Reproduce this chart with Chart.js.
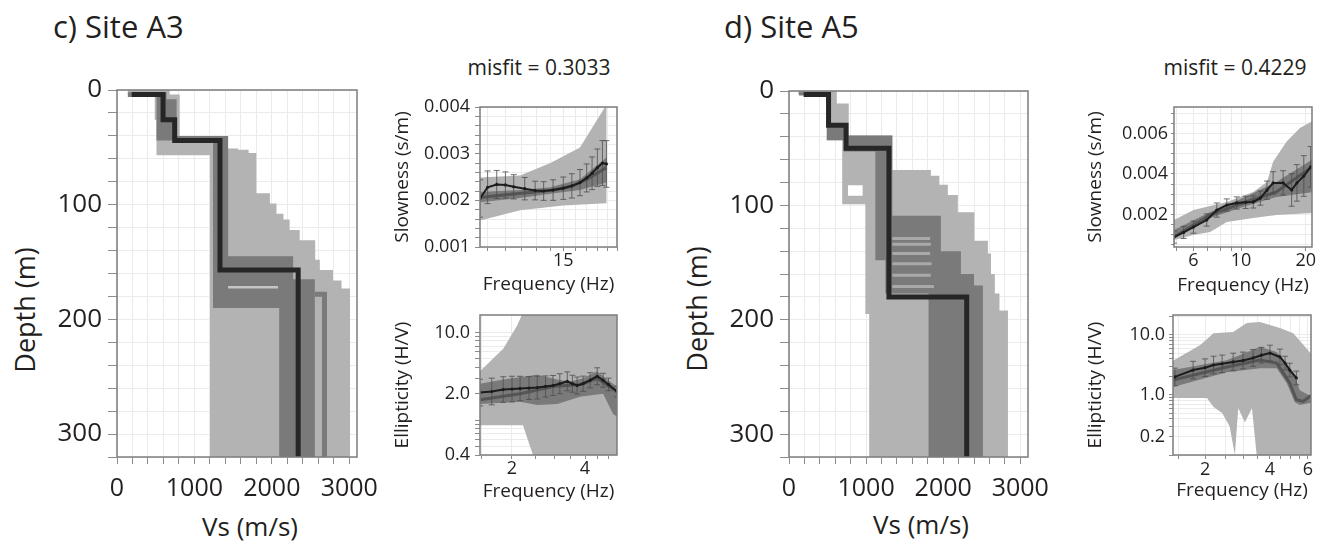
<!DOCTYPE html>
<html>
<head>
<meta charset="utf-8">
<script src="https://cdn.jsdelivr.net/npm/chart.js@4.4.1/dist/chart.umd.min.js"></script>
<style>
  body { margin: 0; width: 1321px; height: 545px; background: #fff; position: relative; overflow: hidden;
         font-family: 'Open Sans', sans-serif; color: #231f20; }
  canvas { position: absolute; }
  .txt { position: absolute; white-space: nowrap; line-height: 1; }
  .ctr { transform: translate(-50%, -50%); }
  .rot { transform: translate(-50%, -50%) rotate(-90deg); }
</style>
</head>
<body>
<div class="txt" style="left:53px;top:11px;font-size:31px">c) Site A3</div>
<div class="txt" style="left:724px;top:11px;font-size:31px">d) Site A5</div>
<div class="txt ctr" style="left:539px;top:67px;font-size:21px">misfit = 0.3033</div>
<div class="txt ctr" style="left:1235px;top:67px;font-size:21px">misfit = 0.4229</div>
<div class="txt rot" style="left:24px;top:310px;font-size:27px">Depth (m)</div>
<div class="txt rot" style="left:696px;top:309px;font-size:27px">Depth (m)</div>
<div class="txt ctr" style="left:250px;top:526px;font-size:26px">Vs (m/s)</div>
<div class="txt ctr" style="left:921px;top:524px;font-size:26px">Vs (m/s)</div>

<canvas id="a3Vs"></canvas>
<canvas id="a3Slow"></canvas>
<canvas id="a3Ell"></canvas>
<canvas id="a5Vs"></canvas>
<canvas id="a5Slow"></canvas>
<canvas id="a5Ell"></canvas>

<script>
// ---- tick labels ----
const vsTickLabels = [0, 1000, 2000, 3000];
const depthTickLabels = [0, 100, 200, 300];
const a3SlowTicks = [0.001, 0.002, 0.003, 0.004];
const a3SlowFreqTicks = [15];
const a3EllTicks = [0.4, 2, 10];
const a3EllFreqTicks = [2, 4];
const a5SlowTicks = [0.002, 0.004, 0.006];
const a5SlowFreqTicks = [6, 10, 20];
const a5EllTicks = [0.2, 1, 10];
const a5EllFreqTicks = [2, 4, 6];

// ---- c) Site A3 : Vs profiles (envelope outlines, Vs in m/s, depth in m) ----
const a3LightVs = [140,140,487,487,510,510,1200,1200,3010,3010,2900,2900,2790,2790,2620,2620,2560,2560,2360,2360,2230,2230,2150,2150,2060,2060,1975,1975,1800,1800,1700,1700,1565,1565,1435,1435,810,810,680,680];
const a3LightDepth = [0,4,4,26,26,57,57,320,320,173,173,166,166,157,157,148,148,131,131,122,122,113,113,108,108,99,99,90,90,55,55,52,52,51,51,42,42,4,4,0];
const a3DarkVs = [140,640,640,770,770,1435,1435,2275,2275,2555,2555,2095,2095,1240,1240,510,510,140];
const a3DarkDepth = [2,2,8,8,40,40,145,145,165,165,320,320,190,190,44,44,6,6];
const a3DarkLineVs = [2555,2680,2680];
const a3DarkLineDepth = [178,178,320];
const a3PaleVs = [1435,2080];
const a3PaleDepth = [172,172];
const a3BestVs = [190,595,595,745,745,1330,1330,2340,2340];
const a3BestDepth = [4,4,26,26,44,44,157,157,320];

// ---- c) Site A3 : slowness ----
const a3SlowLightUpF = [9.6,11.9,14.0,16.4,18.9];
const a3SlowLightUp = [0.00249,0.00253,0.0028,0.00313,0.00405];
const a3SlowLightLoF = [9.6,11.9,15.0,18.9];
const a3SlowLightLo = [0.00157,0.00179,0.00189,0.00194];
const a3SlowDarkF = [9.6,11.9,14.0,16.4,18.9];
const a3SlowDarkUp = [0.00218,0.00222,0.00228,0.00245,0.00292];
const a3SlowDarkLo = [0.00196,0.00205,0.00214,0.00222,0.00238];
const a3SlowBestF = [9.6,11.0,12.9,14.2,15.7,17.0,18.9];
const a3SlowBest = [0.00206,0.00212,0.00218,0.00222,0.0023,0.00245,0.0027];
const a3SlowObsF = [9.6,10.0,10.5,11.0,11.5,12.2,12.9,13.5,14.2,15.0,15.7,16.4,17.0,17.5,18.0,18.5,18.9];
const a3SlowObs = [0.00204,0.00228,0.00234,0.00233,0.00229,0.00225,0.00221,0.0022,0.00222,0.00226,0.00231,0.00238,0.00248,0.00258,0.0027,0.0028,0.00278];
const a3SlowErr = [0.0004,0.00035,0.0003,0.00028,0.00026,0.00024,0.0002,0.0002,0.00022,0.00024,0.00026,0.00028,0.0003,0.00035,0.0004,0.00048,0.0005];

// ---- c) Site A3 : ellipticity ----
const a3EllLightUpF = [1.476,1.84,2.1,2.2,2.5,5.42];
const a3EllLightUp = [3.6,6.5,12,16,40,40];
const a3EllLightLoF = [1.476,2.22,2.33,2.44,2.6,5.42];
const a3EllLightLo = [0.875,0.875,0.585,0.4,0.3,0.3];
const a3EllDarkUpF = [1.476,1.84,2.54,3.07,3.47,3.93,4.49,4.94,5.42];
const a3EllDarkUp = [2.6,2.9,3.3,2.9,2.75,3.0,3.6,2.9,2.4];
const a3EllDarkLoF = [1.476,2.16,2.54,3.07,3.82,4.75,5.23,5.42];
const a3EllDarkLo = [1.53,1.62,1.49,1.53,1.85,2.0,1.17,1.1];
const a3EllBestF = [1.476,2.16,2.95,3.82,4.49,5.42];
const a3EllBest = [1.71,2.0,2.42,2.55,3.0,2.12];
const a3EllObsF = [1.476,1.65,1.84,2.0,2.16,2.35,2.54,2.75,2.95,3.15,3.38,3.55,3.71,3.93,4.2,4.49,4.75,5.0,5.42];
const a3EllObs = [2.06,2.12,2.23,2.26,2.29,2.32,2.35,2.42,2.48,2.6,2.77,2.6,2.48,2.6,2.85,3.16,2.85,2.55,2.12];
const a3EllErr = [1.42,1.42,1.4,1.4,1.38,1.35,1.35,1.32,1.3,1.3,1.28,1.25,1.25,1.22,1.22,1.25,1.2,1.18,1.15];

// ---- d) Site A5 : Vs profiles ----
const a5LightVs = [120,620,620,775,775,1340,1340,1840,1840,1950,1950,2060,2060,2190,2190,2405,2405,2580,2580,2620,2620,2670,2670,2730,2730,2840,2840,1040,1040,990,990,690,690,490,490,120];
const a5LightDepth = [0,0,11,11,39,39,69,69,74,74,82,82,91,91,106,106,131,131,142,142,160,160,177,177,192,192,320,320,195,195,99,99,43,43,3,3];
const a5HoleVs = [765,955,955,765];
const a5HoleDepth = [82.5,82.5,91.5,91.5];
const a5DarkVs = [130,535,535,760,760,1340,1340,1970,1970,2230,2230,2400,2400,2515,2515,1810,1810,1250,1250,1120,1120,710,710,490,490,130];
const a5DarkDepth = [1,1,28,28,39,39,109,109,140,140,160,160,170,170,320,320,177,177,148,148,53,53,43,43,4,4];
const a5StripeDepth = [129,134,142,151,161,171];
const a5StripeVsFrom = 1340;
const a5StripeVsTo = [1830,1840,1830,1850,1840,1880];
const a5BestVs = [190,513,513,740,740,1296,1296,2305,2305];
const a5BestDepth = [3,3,30,30,50,50,180,180,320];

// ---- d) Site A5 : slowness ----
const a5SlowLightUpF = [4.87,6.0,8.58,11.4,13.2,14.1,16.3,18.8,21.4];
const a5SlowLightUp = [0.00173,0.00222,0.00262,0.00311,0.0036,0.0046,0.0056,0.00627,0.0066];
const a5SlowLightLoF = [4.87,6.0,7.18,8.58,11.4,14.6,21.4];
const a5SlowLightLo = [0.00074,0.00099,0.00114,0.00163,0.00183,0.00198,0.00207];
const a5SlowDarkF = [4.87,7.18,10.2,14.6,21.4];
const a5SlowDarkUp = [0.00124,0.00212,0.00281,0.0036,0.0047];
const a5SlowDarkLo = [0.00084,0.00183,0.00237,0.00286,0.0031];
const a5SlowBestF = [4.87,7.18,10.2,14.6,21.4];
const a5SlowBest = [0.00089,0.00198,0.00257,0.00311,0.00435];
const a5SlowObsF = [4.87,5.4,6.0,6.92,7.71,8.58,9.55,10.5,11.4,12.3,13.2,14.1,15.7,17.2,18.2,19.6,21.1];
const a5SlowObs = [0.00089,0.00112,0.00138,0.00173,0.00222,0.00247,0.00257,0.0026,0.00262,0.00281,0.0032,0.00356,0.00356,0.00321,0.00356,0.0039,0.00435];
const a5SlowErr = [0.0003,0.0003,0.0003,0.0003,0.00035,0.0003,0.0003,0.0003,0.0003,0.00035,0.00045,0.00055,0.0006,0.0008,0.0009,0.001,0.001];

// ---- d) Site A5 : ellipticity ----
const a5EllLightUpF = [1.42,1.9,2.19,2.7,3.12,3.6,4.45,5.13,6.0,6.2];
const a5EllLightUp = [3.7,6.8,10.7,11.2,15.8,16.5,13,10.7,5.6,4.8];
const a5EllLightLoF = [1.42,2.04,2.19,2.4,2.6,2.75,2.85,3.06,3.3,3.47,6.2];
const a5EllLightLo = [0.89,0.89,0.63,0.5,0.3,0.1,0.6,0.35,0.6,0.1,0.1];
const a5EllDarkUpF = [1.42,2.52,3.6,4.3,5.13,5.5,6.2];
const a5EllDarkUp = [2.6,3.8,6.3,5.2,2.4,1.2,0.95];
const a5EllDarkLoF = [1.42,2.52,3.6,4.3,4.78,5.22,5.5,6.2];
const a5EllDarkLo = [1.36,2.4,2.8,2.8,1.58,0.76,0.68,0.74];
const a5EllBestF = [1.42,2.52,3.6,4.3,4.94,5.3,5.7,6.2];
const a5EllBest = [1.78,2.93,3.83,3.4,1.58,0.83,0.78,0.98];
const a5EllObsF = [1.45,1.76,2.0,2.19,2.4,2.7,3.0,3.34,3.65,4.0,4.45,4.7,4.94,5.3];
const a5EllObs = [2.0,2.6,2.85,3.16,3.3,3.55,3.75,4.14,4.6,5.0,4.3,3.4,2.6,1.92];
const a5EllErr = [1.4,1.4,1.4,1.4,1.4,1.4,1.38,1.38,1.35,1.35,1.35,1.3,1.3,1.3];

// ---- styling ----
Chart.defaults.font.family = "'Open Sans', sans-serif";
Chart.defaults.color = '#231f20';
Chart.defaults.animation = false;
Chart.defaults.plugins.legend.display = false;
Chart.defaults.plugins.tooltip.enabled = false;

const LIGHT = '#b3b3b3', DARK = '#7a7a7a', BEST = '#555555', BLACK = '#1c1c1c', PALE = '#c6c6c6';

function pts(xs, ys) { return xs.map((x, i) => ({x: x, y: ys[i]})); }
function band(fu, vu, fl, vl) { return pts(fu, vu).concat(pts(fl, vl).reverse()); }
function errBars(f, v, e, mult) {
    let out = [];
    f.forEach((x, i) => {
        let lo = mult ? v[i] / e[i] : v[i] - e[i];
        let hi = mult ? v[i] * e[i] : v[i] + e[i];
        out.push({x: x, y: lo}, {x: x, y: hi}, {x: x, y: null});
    });
    return out;
}
function linVals(min, max, step) {
    let out = [];
    for (let k = Math.ceil(min / step - 1e-6); k * step <= max + step * 1e-6; k++) out.push(+(k * step).toPrecision(10));
    return out;
}
function logVals(min, max) {
    let out = [];
    for (let e = Math.floor(Math.log10(min)); e <= Math.ceil(Math.log10(max)); e++)
        for (let m = 1; m < 10; m++) {
            let v = +(m * Math.pow(10, e)).toPrecision(10);
            if (v >= min * 0.999 && v <= max * 1.001) out.push(v);
        }
    return out;
}
function merge(a, b) {
    let all = a.concat(b).sort((p, q) => p - q);
    return all.filter((v, i) => i === 0 || Math.abs(v - all[i - 1]) > Math.abs(v) * 1e-6);
}

// plot frame
const frame = {
    id: 'frame',
    afterDatasetsDraw(chart) {
        let a = chart.chartArea, c = chart.ctx;
        c.save();
        c.strokeStyle = '#7c7c7c';
        c.lineWidth = 1.5;
        c.strokeRect(a.left, a.top, a.right - a.left, a.bottom - a.top);
        c.restore();
    }
};

function axis(o) {
    let grid = merge(o.grid, o.labels);
    return {
        type: o.type, min: o.min, max: o.max, reverse: !!o.reverse,
        position: o.pos,
        border: {display: false},
        grid: {color: '#ebebeb', tickColor: '#8c8c8c', tickLength: o.tl, lineWidth: 1},
        ticks: {
            autoSkip: false, maxRotation: 0, padding: o.pad,
            font: {size: o.size, lineHeight: 1},
            callback: function(v) {
                return o.labels.some(l => Math.abs(l - v) <= Math.abs(l) * 1e-6 + 1e-12) ? o.fmt(v) : '';
            }
        },
        afterBuildTicks: s => { s.ticks = grid.map(v => ({value: v})); },
        afterFit: s => {
            if (o.pos === 'left') s.width = o.fit; else s.height = o.fit;
            s.paddingLeft = 0; s.paddingRight = 0; s.paddingTop = 0; s.paddingBottom = 0;
        },
        title: o.title ? {display: true, text: o.title, font: {size: o.tsize, lineHeight: 1.2}, padding: o.tpad, color: '#231f20'} : {display: false}
    };
}

function makeChart(id, g, xAx, yAx, datasets) {
    let cv = document.getElementById(id);
    cv.style.left = g.L + 'px';
    cv.style.top = g.T + 'px';
    cv.width = g.W;
    cv.height = g.H;
    xAx.pos = 'bottom'; yAx.pos = 'left';
    xAx.fit = g.T + g.H - g.b;
    yAx.fit = g.l - g.L;
    return new Chart(cv, {
        type: 'line',
        data: {datasets: datasets},
        options: {
            responsive: false,
            devicePixelRatio: 1,
            layout: {padding: {top: g.t - g.T, right: g.L + g.W - g.r, left: 0, bottom: 0}},
            scales: {x: axis(xAx), y: axis(yAx)},
            elements: {point: {radius: 0}, line: {tension: 0}}
        },
        plugins: [frame]
    });
}

function poly(data, color, order) {
    return {data: data, fill: 'shape', backgroundColor: color, borderColor: color, borderWidth: 0, pointRadius: 0, order: order};
}
function stroke(data, color, width, order) {
    return {data: data, fill: false, borderColor: color, borderWidth: width, pointRadius: 0, order: order,
            borderJoinStyle: 'miter', borderCapStyle: 'butt'};
}
function obsLine(data, order) {
    return {data: data, fill: false, borderColor: BLACK, borderWidth: 2, pointRadius: 1.6,
            pointBackgroundColor: BLACK, pointBorderWidth: 0, order: order};
}
function errSet(data, order) {
    return {data: data, fill: false, borderColor: '#4d4d4d', borderWidth: 0.8, pointStyle: 'line',
            pointRadius: 3, pointBorderColor: '#4d4d4d', pointBorderWidth: 0.8, order: order};
}

const fmtInt = v => String(v);
const fmtSlow = v => v.toFixed(3);
const fmtEll = v => v.toFixed(1);

// ---- c) Vs ----
makeChart('a3Vs', {L: 0, T: 75, W: 380, H: 470, l: 117, t: 90, r: 357, b: 457},
    {type: 'linear', min: 0, max: 3100, grid: linVals(0, 3100, 200), labels: vsTickLabels, fmt: fmtInt, size: 25, tl: 7, pad: 12},
    {type: 'linear', min: 0, max: 320, reverse: true, grid: linVals(0, 320, 20), labels: depthTickLabels, fmt: fmtInt, size: 26, tl: 9, pad: 6},
    [
        stroke(pts(a3BestVs, a3BestDepth), '#262626', 5, 1),
        stroke(pts(a3PaleVs, a3PaleDepth), PALE, 2.5, 2),
        stroke(pts(a3DarkLineVs, a3DarkLineDepth), DARK, 5, 3),
        poly(pts(a3DarkVs, a3DarkDepth), DARK, 4),
        poly(pts(a3LightVs, a3LightDepth), LIGHT, 5)
    ]);

// ---- c) slowness ----
makeChart('a3Slow', {L: 380, T: 95, W: 245, H: 205, l: 480, t: 107, r: 617, b: 247},
    {type: 'logarithmic', min: 9.6, max: 20, grid: linVals(10, 20, 1), labels: a3SlowFreqTicks, fmt: fmtInt, size: 18, tl: 4, pad: 1,
     title: 'Frequency (Hz)', tsize: 19, tpad: {top: 0, bottom: 4}},
    {type: 'linear', min: 0.001, max: 0.004, grid: linVals(0.001, 0.004, 0.0002), labels: a3SlowTicks, fmt: fmtSlow, size: 18, tl: 5, pad: 5,
     title: 'Slowness (s/m)', tsize: 19, tpad: {top: 11, bottom: 0}},
    [
        obsLine(pts(a3SlowObsF, a3SlowObs), 1),
        errSet(errBars(a3SlowObsF, a3SlowObs, a3SlowErr, false), 2),
        stroke(pts(a3SlowBestF, a3SlowBest), BEST, 3, 3),
        poly(band(a3SlowDarkF, a3SlowDarkUp, a3SlowDarkF, a3SlowDarkLo), DARK, 4),
        poly(band(a3SlowLightUpF, a3SlowLightUp, a3SlowLightLoF, a3SlowLightLo), LIGHT, 5)
    ]);

// ---- c) ellipticity ----
makeChart('a3Ell', {L: 380, T: 300, W: 245, H: 210, l: 480, t: 315, r: 617, b: 455},
    {type: 'logarithmic', min: 1.476, max: 5.42, grid: linVals(1.5, 5, 0.5), labels: a3EllFreqTicks, fmt: fmtInt, size: 18, tl: 4, pad: 1,
     title: 'Frequency (Hz)', tsize: 19, tpad: {top: 0, bottom: 7}},
    {type: 'logarithmic', min: 0.4, max: 15.8, grid: logVals(0.4, 15.8), labels: a3EllTicks, fmt: fmtEll, size: 18, tl: 5, pad: 5,
     title: 'Ellipticity (H/V)', tsize: 19, tpad: {top: 11, bottom: 0}},
    [
        obsLine(pts(a3EllObsF, a3EllObs), 1),
        errSet(errBars(a3EllObsF, a3EllObs, a3EllErr, true), 2),
        stroke(pts(a3EllBestF, a3EllBest), BEST, 3, 3),
        poly(band(a3EllDarkUpF, a3EllDarkUp, a3EllDarkLoF, a3EllDarkLo), DARK, 4),
        poly(band(a3EllLightUpF, a3EllLightUp, a3EllLightLoF, a3EllLightLo), LIGHT, 5)
    ]);

// ---- d) Vs ----
let stripes = [];
a5StripeDepth.forEach((d, i) => {
    stripes.push({x: a5StripeVsFrom, y: d}, {x: a5StripeVsTo[i], y: d}, {x: a5StripeVsTo[i], y: null});
});
makeChart('a5Vs', {L: 680, T: 76, W: 375, H: 469, l: 789, t: 91, r: 1028, b: 457},
    {type: 'linear', min: 0, max: 3100, grid: linVals(0, 3100, 200), labels: vsTickLabels, fmt: fmtInt, size: 25, tl: 7, pad: 12},
    {type: 'linear', min: 0, max: 320, reverse: true, grid: linVals(0, 320, 20), labels: depthTickLabels, fmt: fmtInt, size: 26, tl: 9, pad: 6},
    [
        stroke(pts(a5BestVs, a5BestDepth), '#262626', 5, 1),
        stroke(stripes, '#a9a9a9', 3, 2),
        poly(pts(a5DarkVs, a5DarkDepth), DARK, 3),
        poly(pts(a5HoleVs, a5HoleDepth), '#ffffff', 4),
        poly(pts(a5LightVs, a5LightDepth), LIGHT, 5)
    ]);

// ---- d) slowness ----
makeChart('a5Slow', {L: 1070, T: 95, W: 251, H: 205, l: 1174, t: 107, r: 1312, b: 247},
    {type: 'logarithmic', min: 4.87, max: 21.4, grid: logVals(4.87, 21.4), labels: a5SlowFreqTicks, fmt: fmtInt, size: 18, tl: 4, pad: 1,
     title: 'Frequency (Hz)', tsize: 19, tpad: {top: 0, bottom: 3}},
    {type: 'linear', min: 0.0004, max: 0.0073, grid: linVals(0.0005, 0.007, 0.0005), labels: a5SlowTicks, fmt: fmtSlow, size: 18, tl: 3, pad: 3,
     title: 'Slowness (s/m)', tsize: 19, tpad: {top: 14, bottom: 0}},
    [
        obsLine(pts(a5SlowObsF, a5SlowObs), 1),
        errSet(errBars(a5SlowObsF, a5SlowObs, a5SlowErr, false), 2),
        stroke(pts(a5SlowBestF, a5SlowBest), BEST, 3, 3),
        poly(band(a5SlowDarkF, a5SlowDarkUp, a5SlowDarkF, a5SlowDarkLo), DARK, 4),
        poly(band(a5SlowLightUpF, a5SlowLightUp, a5SlowLightLoF, a5SlowLightLo), LIGHT, 5)
    ]);

// ---- d) ellipticity ----
makeChart('a5Ell', {L: 1070, T: 300, W: 251, H: 210, l: 1173, t: 315, r: 1311, b: 455},
    {type: 'logarithmic', min: 1.42, max: 6.2, grid: linVals(1.5, 6, 0.5), labels: a5EllFreqTicks, fmt: fmtInt, size: 18, tl: 4, pad: 2,
     title: 'Frequency (Hz)', tsize: 19, tpad: {top: 0, bottom: 8}},
    {type: 'logarithmic', min: 0.1, max: 21.5, grid: logVals(0.1, 21.5), labels: a5EllTicks, fmt: fmtEll, size: 18, tl: 4, pad: 4,
     title: 'Ellipticity (H/V)', tsize: 19, tpad: {top: 14, bottom: 0}},
    [
        obsLine(pts(a5EllObsF, a5EllObs), 1),
        errSet(errBars(a5EllObsF, a5EllObs, a5EllErr, true), 2),
        stroke(pts(a5EllBestF, a5EllBest), BEST, 3, 3),
        poly(band(a5EllDarkUpF, a5EllDarkUp, a5EllDarkLoF, a5EllDarkLo), DARK, 4),
        poly(band(a5EllLightUpF, a5EllLightUp, a5EllLightLoF, a5EllLightLo), LIGHT, 5)
    ]);
</script>
</body>
</html>
